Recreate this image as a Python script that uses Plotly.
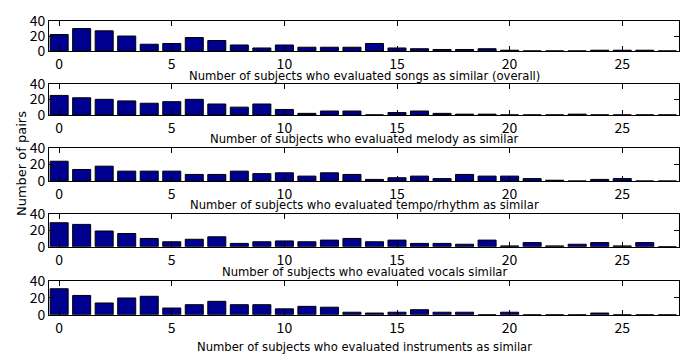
import plotly.graph_objects as go

# ---- data ----
subjects = list(range(28))
overall     = [22, 30, 27, 20, 9, 10, 18, 14, 8, 4, 8, 5, 5, 5, 10, 4, 3, 2, 2, 3, 1, 0, 0, 0, 1, 1, 1, 0]
melody      = [25, 22, 20, 18, 15, 17, 20, 14, 10, 14, 7, 2, 5, 5, 0, 3, 5, 2, 1, 1, 0, 0, 0, 1, 0, 0, 0, 0]
tempo       = [24, 14, 18, 12, 12, 12, 8, 8, 12, 9, 10, 6, 10, 8, 2, 4, 6, 3, 8, 6, 6, 3, 1, 0, 2, 3, 0, 0]
vocals      = [29, 27, 19, 16, 10, 6, 9, 12, 4, 6, 7, 6, 8, 10, 6, 8, 4, 4, 3, 8, 1, 5, 1, 3, 5, 1, 5, 0]
instruments = [31, 23, 14, 20, 22, 8, 12, 16, 12, 12, 7, 10, 9, 3, 2, 3, 6, 3, 3, 0, 3, 0, 0, 0, 2, 0, 0, 0]

series = [overall, melody, tempo, vocals, instruments]
titles = [
    "Number of subjects who evaluated songs as similar (overall)",
    "Number of subjects who evaluated melody as similar",
    "Number of subjects who evaluated tempo/rhythm as similar",
    "Number of subjects who evaluated vocals similar",
    "Number of subjects who evaluated instruments as similar",
]
y_label = "Number of pairs"
y_ticks = [0, 20, 40]
x_ticks = [0, 5, 10, 15, 20, 25]

# ---- layout geometry (pixels) ----
W, H = 696, 362
x_left, x_right = 49, 679
boxes = [(10.7, 42.3), (77, 110), (145, 180), (214.5, 249.5), (286, 321.5)]
title_y = [69, 135, 205, 276, 356]

FONT = "Noto Sans CJK JP"
TFONT = "DejaVu Sans"
BAR = "#000090"

fig = go.Figure()
layout = dict(
    width=W, height=H,
    margin=dict(l=0, r=0, t=0, b=0),
    paper_bgcolor="white", plot_bgcolor="white",
    showlegend=False,
    font=dict(family=FONT, size=14, color="black"),
)
annotations = []
for i, (vals, ttl) in enumerate(zip(series, titles)):
    n = i + 1
    xa = "x" if n == 1 else f"x{n}"
    ya = "y" if n == 1 else f"y{n}"
    fig.add_trace(go.Bar(
        x=subjects, y=vals, xaxis=xa, yaxis=ya,
        marker=dict(color=BAR, line=dict(color="black", width=1)),
        width=0.8, hoverinfo="skip",
    ))
    top, bot = boxes[i]
    layout[f"xaxis{'' if n == 1 else n}"] = dict(
        domain=[x_left / W, x_right / W], anchor=ya,
        range=[-0.45, 27.52], tickvals=x_ticks,
        ticks="inside", ticklen=5, tickcolor="black", tickwidth=1,
        showline=True, linecolor="black", linewidth=1, mirror="ticks",
        showgrid=False, zeroline=False,
        tickfont=dict(family=FONT, size=14, color="black"),
    )
    layout[f"yaxis{'' if n == 1 else n}"] = dict(
        domain=[1 - bot / H, 1 - top / H], anchor=xa,
        range=[0, 40], tickvals=y_ticks,
        ticks="inside", ticklen=5, tickcolor="black", tickwidth=1,
        showline=True, linecolor="black", linewidth=1, mirror="ticks",
        showgrid=False, zeroline=False,
        tickfont=dict(family=FONT, size=14, color="black"),
        ticklabelstandoff=0,
    )
    annotations.append(dict(
        text=ttl, xref="paper", yref="paper",
        x=(x_left + x_right) / 2 / W, y=1 - title_y[i] / H,
        xanchor="center", yanchor="middle", showarrow=False,
        font=dict(family=TFONT, size=11.6, color="black"),
    ))

annotations.append(dict(
    text=y_label, xref="paper", yref="paper",
    x=21 / W, y=1 - 162 / H, textangle=-90,
    xanchor="center", yanchor="middle", showarrow=False,
    font=dict(family=TFONT, size=13, color="black"),
))
layout["annotations"] = annotations
fig.update_layout(**layout)
fig.write_html(
    "out.html",
    config={"displayModeBar": False},
    post_script="document.body.style.margin='0';document.body.style.overflow='hidden';",
)
